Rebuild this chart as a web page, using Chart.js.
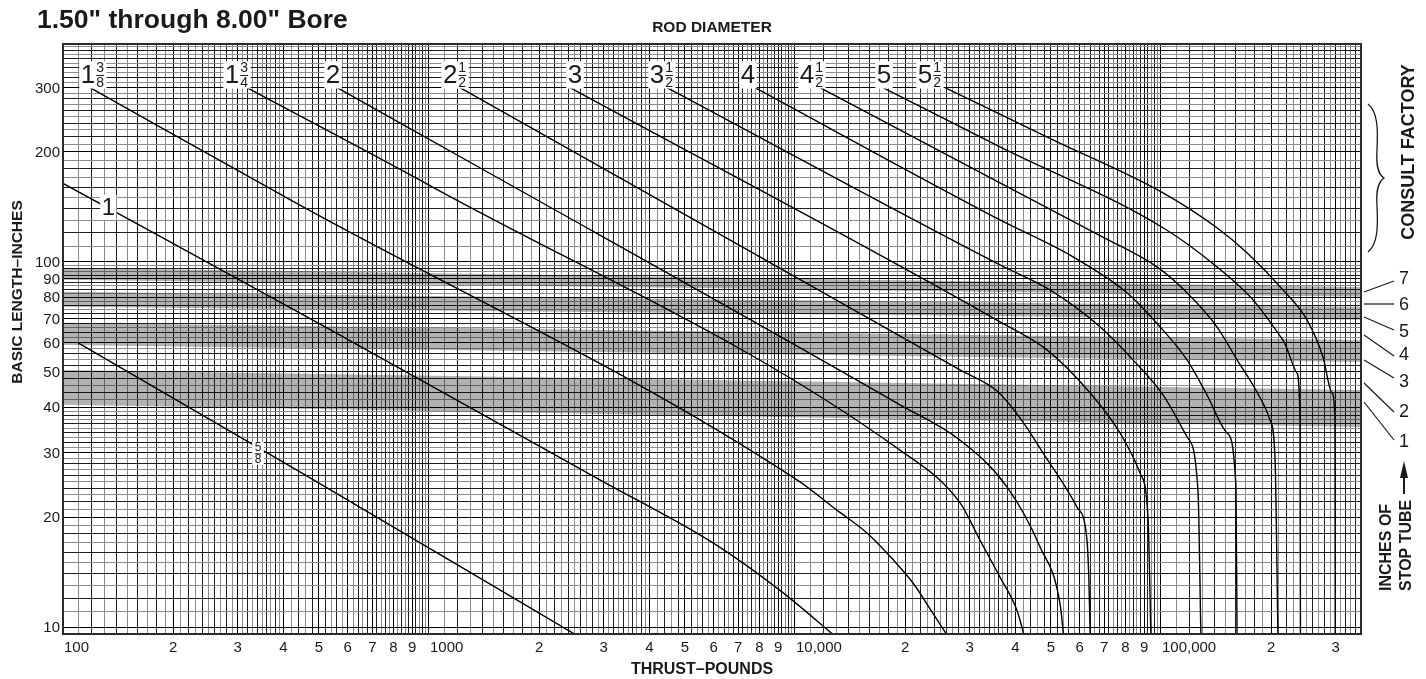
<!DOCTYPE html>
<html>
<head>
<meta charset="utf-8">
<script src="https://cdn.jsdelivr.net/npm/chart.js@4.4.0/dist/chart.umd.min.js"></script>
<style>
  body { margin: 0; background: #fff; }
  canvas { display: block; }
</style>
</head>
<body>
<canvas id="chart" width="1426" height="679"></canvas>
<script>
// rod diameters, one curve each: [thrust lb, basic length in]
const rodNames = ['5/8', '1', '1 3/8', '1 3/4', '2', '2 1/2', '3', '3 1/2', '4', '4 1/2', '5', '5 1/2'];

const rod_5_8 = [[110, 60], [444, 26.6], [2620, 9.3]];
const rod_1 = [[100, 164], [540, 65], [2930, 25.3], [5970, 17.0], [9100, 12.6], [13100, 9.3]];
const rod_1_3_8 = [[118.5, 300], [417, 148], [10130, 25.3], [13020, 20.9], [15730, 18.1], [18530, 15.3], [21010, 13.2], [23820, 10.9], [26400, 9.3]];
const rod_1_3_4 = [[318, 300], [1026, 160], [19360, 30.5], [28230, 21.9], [32020, 17.3], [36320, 13.7], [40430, 11.1], [42500, 9.3]];
const rod_2 = [[561, 300], [1377, 181], [19360, 40.6], [28230, 32.5], [37950, 24.2], [46700, 16.6], [52970, 11.6], [54300, 9.3]];
const rod_2_1_2 = [[1215, 300], [28230, 50.6], [35650, 44.3], [41190, 37.4], [47600, 30.0], [58960, 21.3], [62790, 17.3], [63530, 13.45], [64100, 9.3]];
const rod_3 = [[2428, 300], [36320, 68.5], [48810, 57.4], [63970, 43.8], [77270, 34.0], [87640, 26.4], [92150, 20.0], [93900, 9.3]];
const rod_3_1_2 = [[4467, 300], [36320, 98.1], [49740, 83.8], [68130, 66.4], [83840, 53.9], [101300, 43.2], [117800, 33.2], [126200, 23.7], [128600, 9.3]];
const rod_4 = [[7775, 300], [36320, 130.3], [57500, 103.2], [80740, 82.3], [99380, 66.4], [117800, 53.9], [133600, 43.2], [151500, 34.0], [160300, 24.2], [161400, 9.3]];
const rod_4_1_2 = [[11700, 300], [36320, 164.6], [68130, 118], [97520, 96.9], [117800, 82.3], [142200, 66.4], [161400, 53.9], [182900, 44.0], [198600, 36.9], [204900, 29.2], [208800, 9.3]];
const rod_5 = [[17390, 300], [36320, 206.5], [101300, 124.0], [142200, 96.9], [178400, 78.7], [215400, 61.1], [235300, 49.6], [239800, 36.9], [240500, 9.3]];
const rod_5_1_2 = [[25690, 300], [50690, 215.9], [101300, 154.5], [142200, 124.0], [171800, 105.9], [215400, 83.8], [250600, 69.4], [277100, 54.9], [293300, 43.8], [298800, 36.9], [299300, 9.3]];

const rodCurves = [rod_5_8, rod_1, rod_1_3_8, rod_1_3_4, rod_2, rod_2_1_2, rod_3, rod_3_1_2, rod_4, rod_4_1_2, rod_5, rod_5_1_2];

// where each rod label sits: [thrust, length]
const rodLabelAt = [[341, 29.9], [133, 141], [120.7, 325], [298.8, 325], [546.7, 325], [1178, 325], [2506, 325], [4330, 325], [7440, 325], [11130, 325], [17510, 325], [23380, 325]];

// grey stop tube bands: length at the left edge and at the right edge
const bandLowLeft = [89.3, 75.3, 59.2, 40.6];
const bandHighLeft = [96.3, 82.8, 68.1, 50.6];
const bandLowRight = [80.2, 69.4, 53.2, 35.3];
const bandHighRight = [85.4, 75.3, 61.1, 44.6];

const thrustMin = 100, thrustMax = 352000;
const lengthMin = 9.57, lengthMax = 395;

const thrustLabels = [100, 200, 300, 400, 500, 600, 700, 800, 900, 1000, 2000, 3000, 4000, 5000, 6000, 7000, 8000, 9000, 10000, 20000, 30000, 40000, 50000, 60000, 70000, 80000, 90000, 100000, 200000, 300000];
const lengthLabels = [10, 20, 30, 40, 50, 60, 70, 80, 90, 100, 200, 300];

const stopTubeNums = ['7', '6', '5', '4', '3', '2', '1'];

const FONT = '"Liberation Sans", Arial, Helvetica, sans-serif';
const INK = '#1a1a1a';

// log paper: tenths from 1 to 4, fifths from 4 to 10 in each decade
const paperSteps = [];
for (let k = 10; k < 40; k++) paperSteps.push(k);
for (let k = 40; k < 100; k += 2) paperSteps.push(k);

function paperLines(min, max) {
    const out = [];
    for (let b = 1; b <= 1e6; b *= 10) {
        paperSteps.forEach(k => {
            const v = k * b / 10;
            if (v >= min * 0.999 && v <= max) out.push(v);
        });
    }
    return out;
}

function lineColor(v) {
    const b = Math.pow(10, Math.floor(Math.log10(v) + 1e-9));
    const k = Math.round(v / b * 10);
    if (k % 10 === 0) return '#000';
    const i = paperSteps.indexOf(k);
    return i % 2 === 0 ? '#1e1e1e' : '#8c8c8c';
}

const datasets = [];
for (let i = 0; i < bandLowLeft.length; i++) {
    datasets.push({
        data: [{ x: thrustMin, y: bandLowLeft[i] }, { x: thrustMax, y: bandLowRight[i] }],
        borderWidth: 0, pointRadius: 0, fill: false, tension: 0
    });
    datasets.push({
        data: [{ x: thrustMin, y: bandHighLeft[i] }, { x: thrustMax, y: bandHighRight[i] }],
        borderWidth: 0, pointRadius: 0, fill: '-1', tension: 0,
        backgroundColor: 'rgba(0,0,0,0.30)'
    });
}
rodCurves.forEach((c, i) => {
    datasets.push({
        label: rodNames[i],
        data: c.map(p => ({ x: p[0], y: p[1] })),
        borderColor: '#000', borderWidth: 1.4, pointRadius: 0, fill: false,
        cubicInterpolationMode: 'monotone'
    });
});

function rodLabel(ctx, cx, cy, name, size) {
    let whole = '', frac = null;
    name.split(' ').forEach(p => { if (p.includes('/')) frac = p.split('/'); else whole = p; });
    const big = size + 'px ' + FONT;
    const small = Math.round(size * 0.54) + 'px ' + FONT;
    ctx.font = big;
    const ww = whole ? ctx.measureText(whole).width : 0;
    ctx.font = small;
    const fw = frac ? Math.max(ctx.measureText(frac[0]).width, ctx.measureText(frac[1]).width) + 2 : 0;
    const w = ww + fw + 3, h = size * 1.05;
    ctx.fillStyle = '#fff';
    ctx.fillRect(cx - w / 2, cy - h / 2, w, h);
    ctx.fillStyle = INK;
    ctx.textBaseline = 'middle';
    ctx.textAlign = 'left';
    let x0 = cx - w / 2 + 1.5;
    if (whole) { ctx.font = big; ctx.fillText(whole, x0, cy + 1); x0 += ww; }
    if (frac) {
        ctx.font = small;
        ctx.textAlign = 'center';
        const fc = x0 + fw / 2;
        ctx.fillText(frac[0], fc, cy - size * 0.25);
        ctx.fillText(frac[1], fc, cy + size * 0.3);
        ctx.fillRect(fc - fw / 2 + 1, cy, fw - 2, 1);
    }
}

function rotatedText(ctx, text, x, y, font, align) {
    ctx.save();
    ctx.translate(x, y);
    ctx.rotate(-Math.PI / 2);
    ctx.font = font;
    ctx.textAlign = align || 'center';
    ctx.textBaseline = 'middle';
    ctx.fillText(text, 0, 0);
    ctx.restore();
}

const decor = {
    id: 'decor',
    beforeDraw(chart) {
        const ctx = chart.ctx;
        ctx.save();
        ctx.fillStyle = '#fff';
        ctx.fillRect(0, 0, chart.width, chart.height);
        ctx.restore();
    },
    afterDatasetsDraw(chart) {
        const { ctx, chartArea: a, scales: { x, y } } = chart;
        ctx.save();
        ctx.strokeStyle = '#2a2a2a';
        ctx.lineWidth = 2;
        ctx.strokeRect(a.left, a.top, a.right - a.left, a.bottom - a.top);

        rodNames.forEach((n, i) => {
            const px = x.getPixelForValue(rodLabelAt[i][0]);
            const py = y.getPixelForValue(rodLabelAt[i][1]);
            const size = i === 0 ? 22 : i === 1 ? 24 : 26;
            rodLabel(ctx, px, py, n, size);
        });

        // tick labels
        ctx.fillStyle = INK;
        ctx.font = '15px ' + FONT;
        ctx.textBaseline = 'middle';
        thrustLabels.forEach(v => {
            const px = x.getPixelForValue(v);
            const lead = v / Math.pow(10, Math.floor(Math.log10(v) + 1e-9));
            let txt, align;
            if (Math.round(lead) === 1) {
                txt = v >= 10000 ? v.toLocaleString('en-US') : String(v);
                align = 'left';
            } else {
                txt = String(Math.round(lead));
                align = 'center';
            }
            ctx.textAlign = align;
            ctx.fillText(txt, align === 'left' ? px + 1 : px, a.bottom + 14);
        });
        ctx.textAlign = 'right';
        lengthLabels.forEach(v => {
            ctx.fillText(String(v), a.left - 3, y.getPixelForValue(v) + 1);
        });

        // titles
        ctx.textAlign = 'left';
        ctx.textBaseline = 'alphabetic';
        ctx.font = 'bold 26.5px ' + FONT;
        ctx.fillText('1.50" through 8.00" Bore', 37, 28);
        ctx.textAlign = 'center';
        ctx.font = 'bold 15.5px ' + FONT;
        ctx.fillText('ROD DIAMETER', 712, 32);
        ctx.font = 'bold 16px ' + FONT;
        ctx.fillText('THRUST\u2013POUNDS', 702, 674);
        rotatedText(ctx, 'BASIC LENGTH\u2013INCHES', 18, 292, 'bold 15.5px ' + FONT);
        rotatedText(ctx, 'CONSULT FACTORY', 1409, 152, 'bold 18px ' + FONT);
        rotatedText(ctx, 'INCHES OF', 1387, 591, 'bold 16px ' + FONT, 'left');
        rotatedText(ctx, 'STOP TUBE', 1407, 591, 'bold 16px ' + FONT, 'left');

        // arrow above STOP TUBE
        ctx.strokeStyle = INK;
        ctx.lineWidth = 2;
        ctx.beginPath();
        ctx.moveTo(1404, 494); ctx.lineTo(1404, 472);
        ctx.stroke();
        ctx.beginPath();
        ctx.moveTo(1404, 461); ctx.lineTo(1400, 478); ctx.lineTo(1408, 478);
        ctx.closePath(); ctx.fill();

        // brace for consult factory
        ctx.lineWidth = 1.3;
        ctx.beginPath();
        ctx.moveTo(1368, 104);
        ctx.bezierCurveTo(1378, 112, 1378, 130, 1377, 150);
        ctx.bezierCurveTo(1376, 166, 1378, 174, 1384, 178);
        ctx.bezierCurveTo(1378, 182, 1376, 190, 1377, 206);
        ctx.bezierCurveTo(1378, 226, 1378, 244, 1368, 252);
        ctx.stroke();

        // stop tube numbers with leaders
        const leaders = [[292, 281, 279], [304, 304, 305], [317, 330, 332], [335, 356, 355], [360, 378, 382], [383, 412, 412], [402, 440, 442]];
        ctx.font = '18px ' + FONT;
        ctx.textAlign = 'center';
        ctx.textBaseline = 'middle';
        ctx.lineWidth = 1.2;
        stopTubeNums.forEach((n, i) => {
            const [y1, y2, ty] = leaders[i];
            ctx.beginPath();
            ctx.moveTo(a.right + 3, y1);
            ctx.lineTo(a.right + 33, y2);
            ctx.stroke();
            ctx.fillText(n, a.right + 43, ty);
        });
        ctx.restore();
    }
};

new Chart(document.getElementById('chart'), {
    type: 'line',
    data: { datasets: datasets },
    options: {
        responsive: false,
        animation: false,
        layout: { padding: { left: 63, right: 65, top: 44, bottom: 45 } },
        plugins: { legend: { display: false }, tooltip: { enabled: false } },
        scales: {
            x: {
                type: 'logarithmic', min: thrustMin, max: thrustMax,
                afterBuildTicks: s => { s.ticks = paperLines(thrustMin, thrustMax).map(v => ({ value: v })); },
                afterFit: s => { s.height = 0; },
                ticks: { display: false, autoSkip: false },
                grid: { drawTicks: false, lineWidth: 1, color: c => lineColor(c.tick.value) },
                border: { display: false }
            },
            y: {
                type: 'logarithmic', min: lengthMin, max: lengthMax,
                afterBuildTicks: s => { s.ticks = paperLines(10, lengthMax).map(v => ({ value: v })); },
                afterFit: s => { s.width = 0; },
                ticks: { display: false, autoSkip: false },
                grid: { drawTicks: false, lineWidth: 1, color: c => lineColor(c.tick.value) },
                border: { display: false }
            }
        }
    },
    plugins: [decor]
});
</script>
</body>
</html>
